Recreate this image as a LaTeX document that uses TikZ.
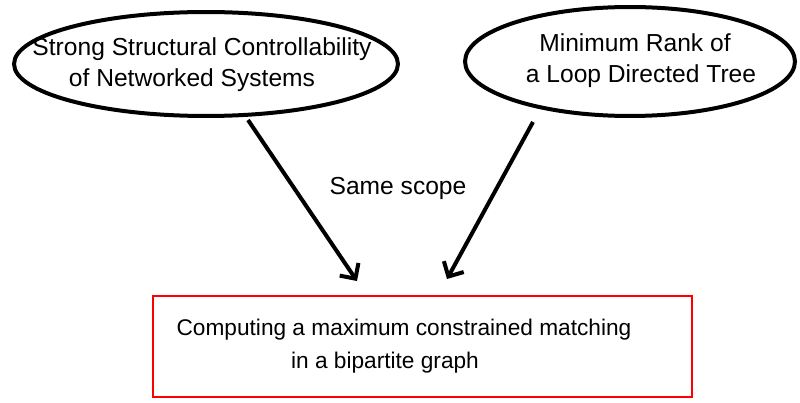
\documentclass[tikz,border=0pt]{standalone}
\usepackage{fontspec}
\setmainfont{Liberation Sans}
\usetikzlibrary{arrows.meta,shapes.geometric}

\tikzset{
  ring/.style={ellipse, draw, line width=0.08cm, inner sep=0pt},
  redbox/.style={draw=red, line width=0.05cm, inner sep=0pt},
  link/.style={line width=0.08cm, -{Straight Barb[angle=90:0.32cm]}}
}

\begin{document}
\begin{tikzpicture}[x=0.02cm, y=-0.02cm, font=\fontsize{14}{17.5}\selectfont]
  \useasboundingbox (0,0) rectangle (800,402);
  \node[ring, minimum width=7.68cm, minimum height=2.08cm] (sscring) at (206,64) {};
  \node[align=center] (ssc) at (202,65) {Strong Structural Controllability\\of Networked Systems\hspace*{0.4cm}};
  \node[ring, minimum width=6.6cm, minimum height=2.18cm] (mrring) at (630,61.5) {};
  \node[align=center] (mr) at (641,61) {Minimum Rank of\hspace*{0.24cm}\\a Loop Directed Tree};
  \node[redbox, minimum width=10.78cm, minimum height=2.02cm] (cmmbox) at (422.5,346.5) {};
  \node[align=center, font=\fontsize{12.9}{18.5}\selectfont] (cmm) at (404,346) {Computing a maximum constrained matching\\in a bipartite graph\hspace*{0.76cm}};
  \node (scope) at (398,188) {Same scope};
  \coordinate (a1) at (248,120);
  \coordinate (b1) at (357,281);
  \coordinate (a2) at (533,122);
  \coordinate (b2) at (447,279);
  \draw[link] (a1) -- (b1);
  \draw[link] (a2) -- (b2);
\end{tikzpicture}
\end{document}
